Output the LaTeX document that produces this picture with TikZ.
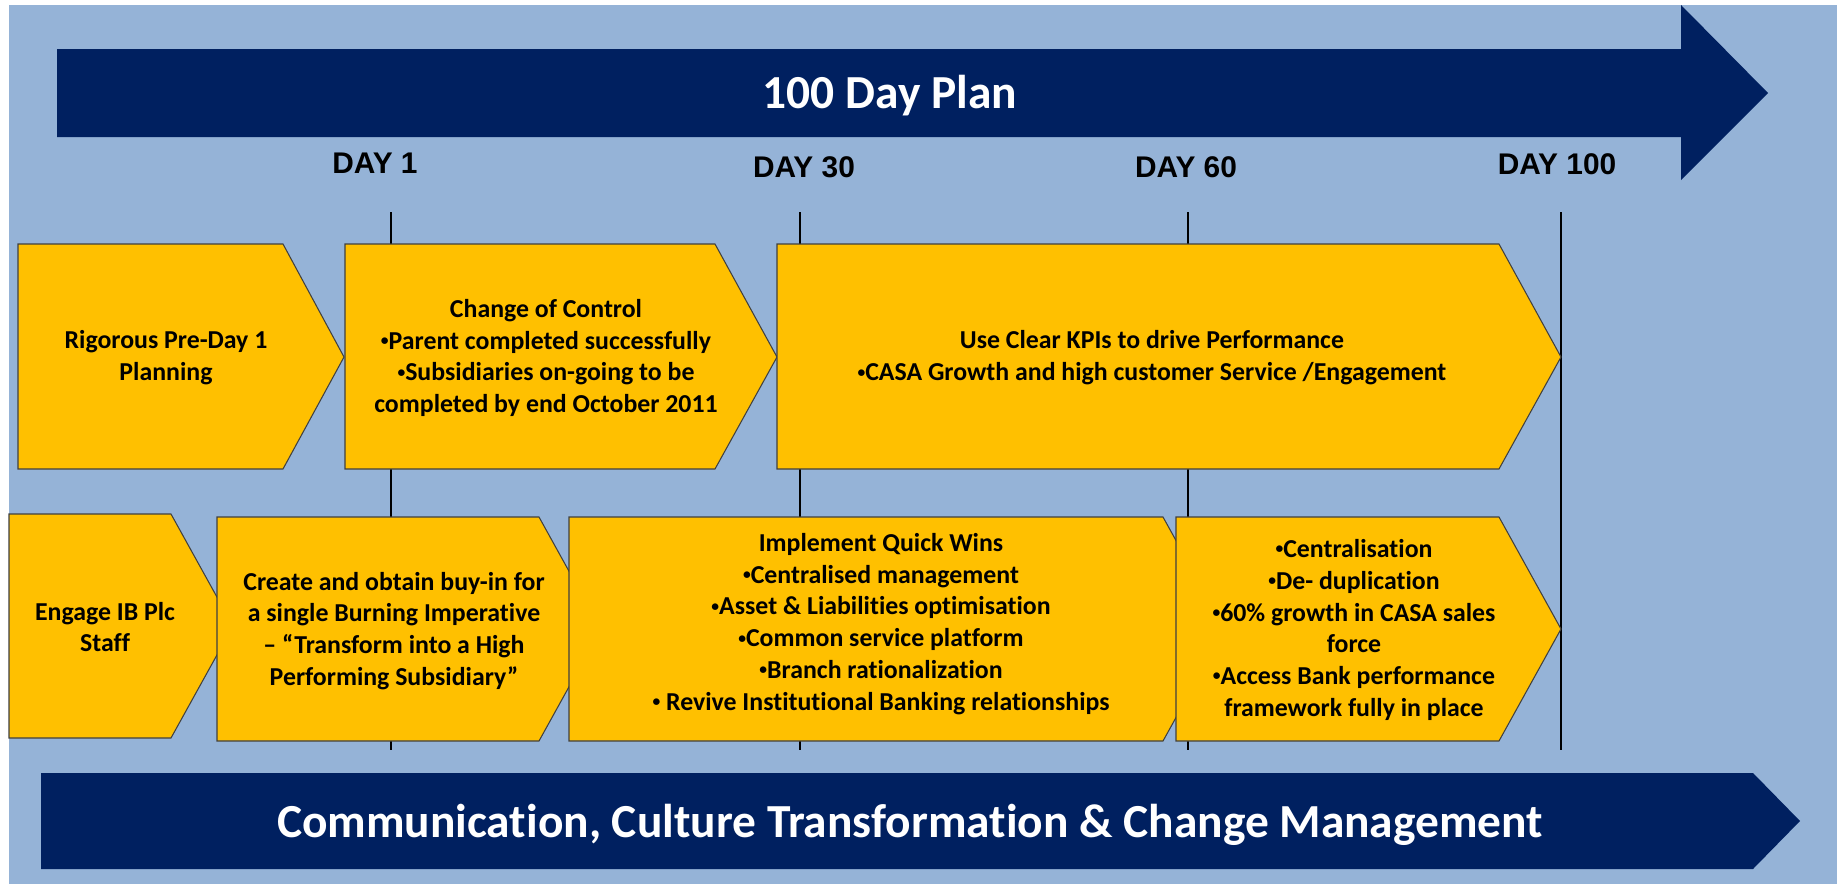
\documentclass[tikz,border=0pt]{standalone}
\usepackage{fontspec}
\usepackage{graphicx}
\setmainfont[Ligatures=CommonOff]{Carlito}
\newfontfamily\dayfont{Liberation Sans}
\definecolor{bgblue}{HTML}{95B3D7}
\definecolor{navy}{HTML}{002060}
\definecolor{chevfill}{HTML}{FFC000}
\definecolor{chevline}{HTML}{404040}
\newcommand{\blt}{\raisebox{0.3ex}{\scalebox{0.6}{•}}}

\begin{document}
\begin{tikzpicture}[
  x=0.02cm,y=-0.02cm,
  chev/.style={draw=chevline,line width=0.6pt,fill=chevfill},
  band/.style={fill=navy},
  txt/.style={font=\fontsize{14.7}{18.1}\selectfont\bfseries,align=center,inner sep=0pt},
  daylab/.style={font=\dayfont\fontsize{17}{19}\selectfont\bfseries,anchor=base,inner sep=0pt},
  bandtxt/.style={font=\fontsize{27}{32}\selectfont\bfseries,text=white,anchor=base,inner sep=0pt},
  dayline/.style={black,line width=0.8pt}]

% Page and background.
\useasboundingbox (0,0) rectangle (1837,886);
\fill[white] (0,0) rectangle (1837,886);
\fill[bgblue] (9,5) rectangle (1837,884);

% 100 day arrow.
\fill[band] (57,49) -- (1681,49) -- (1681,5) -- (1768,93) -- (1681,180) -- (1681,137) -- (57,137) -- cycle;
\node[bandtxt] (plan) at (890,108) {100 Day Plan};

% Day markers.
\node[daylab] (day1) at (375,173) {DAY 1};
\node[daylab] (day30) at (804,177) {DAY 30};
\node[daylab] (day60) at (1186,177) {DAY 60};
\node[daylab] (day100) at (1557,174) {DAY 100};
\coordinate (t1) at (391,212);  \coordinate (b1) at (391,750);
\coordinate (t30) at (800,212); \coordinate (b30) at (800,750);
\coordinate (t60) at (1188,212); \coordinate (b60) at (1188,750);
\coordinate (t100) at (1561,212); \coordinate (b100) at (1561,750);
\draw[dayline] (t1) -- (b1);
\draw[dayline] (t30) -- (b30);
\draw[dayline] (t60) -- (b60);
\draw[dayline] (t100) -- (b100);

% Upper row.
\draw[chev] (18,244) -- (283,244) -- (344,357) -- (283,469) -- (18,469) -- cycle;
\draw[chev] (345,244) -- (715,244) -- (777,357) -- (715,469) -- (345,469) -- cycle;
\draw[chev] (777,244) -- (1499,244) -- (1561,357) -- (1499,469) -- (777,469) -- cycle;
\node[txt] (pre) at (166,358) {Rigorous Pre-Day 1\\Planning};
\node[txt] (ctrl) at (546,358) {Change of Control\\\blt Parent completed successfully\\\blt Subsidiaries on-going to be\\completed by end October 2011};
\node[txt] (kpi) at (1152,358) {Use Clear KPIs to drive Performance\\\blt CASA Growth and high customer Service /Engagement};

% Lower row (each box laps over the point of the one before).
\draw[chev] (9,514) -- (171,514) -- (233,626) -- (171,738) -- (9,738) -- cycle;
\draw[chev] (217,517) -- (539,517) -- (601,629) -- (539,741) -- (217,741) -- cycle;
\draw[chev] (569,517) -- (1163,517) -- (1225,629) -- (1163,741) -- (569,741) -- cycle;
\draw[chev] (1176,517) -- (1499,517) -- (1561,629) -- (1499,741) -- (1176,741) -- cycle;
\node[txt] (staff) at (105,627) {Engage IB Plc\\Staff};
\node[txt] (burn) at (394,631) {Create and obtain buy-in for\\a single Burning Imperative\\– “Transform into a High\\Performing Subsidiary”};
\node[txt] (wins) at (881,624) {Implement Quick Wins\\\blt Centralised management\\\blt Asset \& Liabilities optimisation\\\blt Common service platform\\\blt Branch rationalization\\\blt{} Revive Institutional Banking relationships};
\node[txt] (central) at (1354,630) {\blt Centralisation\\\blt De- duplication\\\blt 60\% growth in CASA sales\\force\\\blt Access Bank performance\\framework fully in place};

% Change management band.
\fill[band] (41,773) -- (1753,773) -- (1800,821) -- (1753,869) -- (41,869) -- cycle;
\node[bandtxt] (change) at (910,837) {Communication, Culture Transformation \& Change Management};
\end{tikzpicture}
\end{document}
